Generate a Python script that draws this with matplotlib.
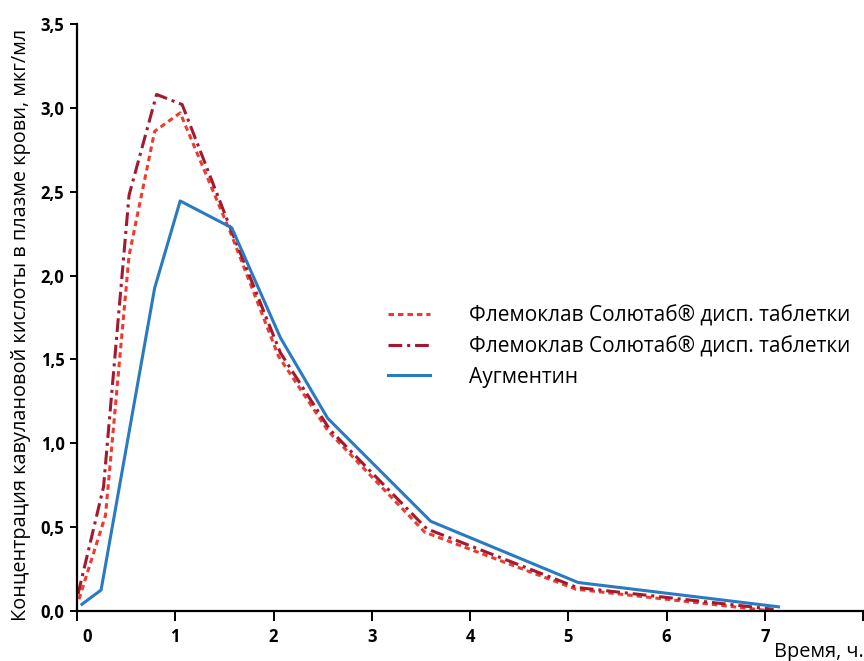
import matplotlib
matplotlib.use("Agg")
import matplotlib.pyplot as plt
import matplotlib.transforms as mtransforms

plt.rcParams['font.family'] = ['Open Sans', 'DejaVu Sans']

# данные
t_flem1 = [0.02, 0.29, 0.53, 0.79, 1.05, 1.56, 2.05, 2.56, 3.54, 5.08, 7.07]
c_flem1 = [0.07, 0.57, 2.12, 2.86, 2.97, 2.26, 1.52, 1.07, 0.47, 0.13, 0.00]

t_flem2 = [0.01, 0.27, 0.53, 0.81, 1.07, 1.57, 2.07, 2.575, 3.56, 5.09, 7.09]
c_flem2 = [0.10, 0.74, 2.48, 3.08, 3.02, 2.27, 1.54, 1.08, 0.49, 0.14, 0.01]

t_augm = [0.05, 0.245, 0.79, 1.05, 1.575, 2.07, 2.55, 3.6, 5.1, 7.14]
c_augm = [0.04, 0.125, 1.925, 2.445, 2.285, 1.63, 1.15, 0.535, 0.17, 0.025]

labels = ['Флемоклав Солютаб® дисп. таблетки',
          'Флемоклав Солютаб® дисп. таблетки',
          'Аугментин']

xticks = [0, 1, 2, 3, 4, 5, 6, 7, 8]
xticklabels = ['0', '1', '2', '3', '4', '5', '6', '7', '']
yticks = [0, 0.5, 1.0, 1.5, 2.0, 2.5, 3.0, 3.5]
yticklabels = ['0,0', '0,5', '1,0', '1,5', '2,0', '2,5', '3,0', '3,5']

fig = plt.figure(figsize=(8.64, 6.61), dpi=100)
ax = fig.add_axes([77/864, 50/661, 787/864, 587/661])

ax.plot(t_flem1, c_flem1, color='#ee3b30', linewidth=2.2,
        linestyle=(0, (1.8, 1.3)), label=labels[0])
ax.plot(t_flem2, c_flem2, color='#a3192e', linewidth=2.2,
        linestyle=(0, (4.5, 1.6, 1.0, 1.6)), label=labels[1])
ax.plot(t_augm, c_augm, color='#2a7ac2', linewidth=2.2, label=labels[2])

ax.set_xlim(0, 8.01)
ax.set_ylim(0, 3.5)

ax.spines['right'].set_visible(False)
ax.spines['top'].set_visible(False)
ax.spines['left'].set_linewidth(1.6)
ax.spines['bottom'].set_linewidth(1.6)

ax.set_xticks(xticks)
ax.set_xticklabels(xticklabels, fontsize=12, fontweight='bold')
ax.set_yticks(yticks)
ax.set_yticklabels(yticklabels, fontsize=12, fontweight='bold')
ax.tick_params(axis='x', length=7, width=1.4, pad=5)
ax.tick_params(axis='y', length=5, width=1.4, pad=4)

# сдвиг подписи "0" вправо, как на оригинале
first = ax.get_xticklabels()[0]
first.set_transform(first.get_transform() +
                    mtransforms.ScaledTranslation(10/100, 0, fig.dpi_scale_trans))

ax.set_ylabel('Концентрация кавулановой кислоты в плазме крови, мкг/мл',
              fontsize=14.3)
ax.yaxis.set_label_coords(-0.058, 0.487)
fig.text(1.0, 1 - 652/661, 'Время, ч.', fontsize=14.3,
         ha='right', va='center')

leg = ax.legend(loc='upper left', bbox_to_anchor=(388/864, 1 - 305/661),
                bbox_transform=fig.transFigure, borderpad=0,
                frameon=False, fontsize=15, handlelength=2.0,
                handletextpad=1.9, labelspacing=0.45, borderaxespad=0)

plt.savefig('out.png', dpi=100)
